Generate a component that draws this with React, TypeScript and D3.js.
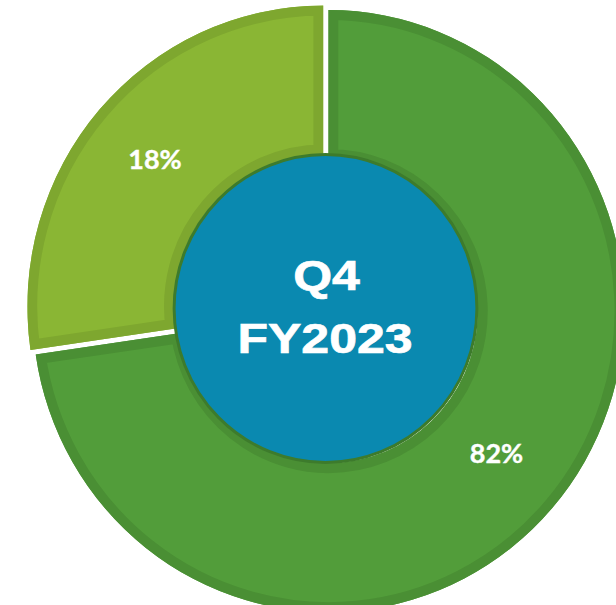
import React from "react";
import * as d3 from "d3";

// Slice shares as drawn in the picture (angular extent), and their printed labels
const categories = ["Main", "Other"];
const shares = [72.7, 27.3];
const labels = ["82%", "18%"];
const explode = [4, 3];
const fills = ["#529d3a", "#8ab634"];
const borders = ["#4a8f34", "#7ea72f"];
const centerLines = ["Q4", "FY2023"];

export default function App() {
  const W = 616, H = 605;
  const cx = 325.5, cy = 308.5;
  const R = 301, r0 = 152;
  const sx = 0.983;

  const pie = d3.pie<number>().sort(null).startAngle(0).endAngle(2 * Math.PI);
  const arcs = pie(shares);
  const arcGen = d3.arc<d3.PieArcDatum<number>>().innerRadius(r0).outerRadius(R);
  const labelPos = [
    [496.5 - cx, 463 - cy],
    [155 - cx, 169 - cy],
  ];

  return (
    <svg width={W} height={H} style={{ position: "absolute", left: 0, top: 0 }}>
      <defs>
        {arcs.map((a, i) => (
          <clipPath id={`clip${i}`} key={i}>
            <path d={arcGen(a) || ""} />
          </clipPath>
        ))}
      </defs>
      <rect width={W} height={H} fill="#fff" />
      <g transform={`translate(${cx},${cy}) scale(${sx},1)`}>
        {arcs.map((a, i) => {
          const mid = (a.startAngle + a.endAngle) / 2;
          const dx = Math.sin(mid) * explode[i];
          const dy = -Math.cos(mid) * explode[i];
          return (
            <g key={categories[i]} transform={`translate(${dx},${dy})`}>
              <path d={arcGen(a) || ""} fill={fills[i]} />
              <path
                d={arcGen(a) || ""}
                fill="none"
                stroke={borders[i]}
                strokeWidth={20}
                clipPath={`url(#clip${i})`}
              />
            </g>
          );
        })}
        <circle r={154} fill="#0a89b0" stroke="#3d7b2c" strokeWidth={3} />
      </g>
      <g fontFamily="'Liberation Sans', Arial, sans-serif" fontWeight="bold" fill="#fff" stroke="#fff" strokeWidth={0.8} textAnchor="middle">
        <text transform={`translate(326.5,290) scale(1,0.84)`} fontSize={50}>{centerLines[0]}</text>
        <text transform={`translate(325,353) scale(1,0.84)`} fontSize={50}>{centerLines[1]}</text>
      </g>
      <g fontFamily="Lato, 'Open Sans', sans-serif" fontWeight="bold" fill="#fff" stroke="#fff" strokeWidth={0.4} textAnchor="middle" fontSize={27}>
        {labels.map((l, i) => (
          <text key={l} x={cx + labelPos[i][0]} y={cy + labelPos[i][1]}>{l}</text>
        ))}
      </g>
    </svg>
  );
}
